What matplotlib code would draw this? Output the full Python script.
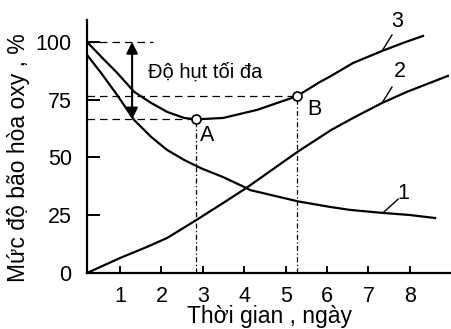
import matplotlib
matplotlib.use("Agg")
import matplotlib.pyplot as plt

plt.rcParams["font.family"] = ["Liberation Sans", "DejaVu Sans"]

# ── Data ─────────────────────────────────────────────────────────────────
# curve 1: oxygen consumption (deficit curve)
t1 = [0.2, 0.54, 0.93, 1.34, 1.75, 2.14, 2.55, 2.96, 3.49, 4.05, 4.14,
      5.3, 6.07, 6.56, 7.35, 8.0, 8.61]
v1 = [94.4, 86.6, 77.0, 66.2, 58.9, 53.2, 48.9, 45.3, 41.5, 36.8, 35.9,
      31.0, 28.6, 27.3, 26.0, 25.1, 23.8]

# curve 2: reaeration
t2 = [0.2, 0.52, 1.0, 1.65, 2.14, 2.45, 2.84, 3.49, 4.05, 5.3, 6.1,
      6.63, 7.33, 7.93, 8.92]
v2 = [0.0, 2.6, 6.5, 11.3, 15.2, 18.6, 22.9, 30.3, 36.8, 52.6, 61.9,
      67.1, 73.6, 78.4, 85.3]

# curve 3: oxygen saturation (sag curve)
t3 = [0.2, 0.62, 0.93, 1.34, 1.75, 2.14, 2.55, 2.84, 3.49, 4.31, 5.27,
      5.83, 6.07, 6.63, 7.33, 7.84, 8.32]
v3 = [100.0, 92.2, 86.6, 78.4, 73.6, 69.7, 67.1, 66.5, 67.1, 70.6, 76.5,
      82.7, 85.0, 90.9, 96.1, 99.6, 102.6]

point_A = (2.84, 66.5)
point_B = (5.27, 76.5)
x_ticks = [1, 2, 3, 4, 5, 6, 7, 8]
y_ticks = [0, 25, 50, 75, 100]

# ── Figure ───────────────────────────────────────────────────────────────
fig = plt.figure(figsize=(4.52, 3.29), dpi=100)
ax = fig.add_axes([87 / 452, 56 / 329, 365 / 452, 253 / 329])
ax.set_xlim(0.2, 9.02)
ax.set_ylim(0, 109.5)

for s in ("top", "right"):
    ax.spines[s].set_visible(False)
for s in ("left", "bottom"):
    ax.spines[s].set_linewidth(1.6)

lw = 1.6
ax.plot(t1, v1, color="black", lw=lw, solid_joinstyle="round")
ax.plot(t2, v2, color="black", lw=lw, solid_joinstyle="round")
ax.plot(t3, v3, color="black", lw=lw, solid_joinstyle="round")

# guide lines
hd = dict(color="black", lw=0.9, linestyle=(0, (6, 4)))
vd = dict(color="black", lw=0.9, linestyle=(0, (4, 2, 1, 2)))
ax.plot([0.2, 1.8], [100, 100], **hd)
ax.plot([0.2, point_B[0]], [point_B[1], point_B[1]], **hd)
ax.plot([0.2, point_A[0]], [point_A[1], point_A[1]], **hd)
ax.plot([point_A[0], point_A[0]], [0, point_A[1]], **vd)
ax.plot([point_B[0], point_B[0]], [0, point_B[1]], **vd)

# points A and B
for p in (point_A, point_B):
    ax.plot(*p, marker="o", ms=6.5, mfc="white", mec="black", mew=1.2,
            zorder=5)
ax.text(3.1, 59.7, "A", fontsize=15.5, ha="center", va="center")
ax.text(5.7, 70.8, "B", fontsize=15.5, ha="center", va="center")

# maximum deficit arrow
ax.annotate("", xy=(1.29, point_A[1]), xytext=(1.29, 100),
            arrowprops=dict(arrowstyle="<|-|>", color="black", lw=1.5,
                            mutation_scale=17, shrinkA=0, shrinkB=0))
ax.text(1.68, 87, "Độ hụt tối đa", fontsize=14.5, ha="left", va="center")

# curve labels with leaders
ax.plot([7.33, 7.57], [96.1, 103.0], color="black", lw=1)
ax.text(7.7, 108.7, "3", fontsize=15.5, ha="center", va="center")
ax.plot([7.33, 7.57], [73.6, 80.5], color="black", lw=1)
ax.text(7.76, 87.0, "2", fontsize=15.5, ha="center", va="center")
ax.plot([7.35, 7.72], [26.0, 32.0], color="black", lw=1)
ax.text(7.84, 34.6, "1", fontsize=15.5, ha="center", va="center")

ax.set_xticks(x_ticks)
ax.set_yticks(y_ticks)
ax.tick_params(axis="x", direction="in", length=5, width=1.4, pad=9,
               labelsize=15.5)
ax.tick_params(axis="y", direction="in", length=9, width=1.4, pad=11,
               labelsize=15.5)

ax.set_xlabel("Thời gian , ngày", fontsize=16.5)
ax.set_ylabel("Mức độ bão hòa oxy , %", fontsize=16.5)
ax.xaxis.set_label_coords(0.50, -0.125)
ax.yaxis.set_label_coords(-0.155, 0.455)

fig.savefig("out.png", dpi=100)
